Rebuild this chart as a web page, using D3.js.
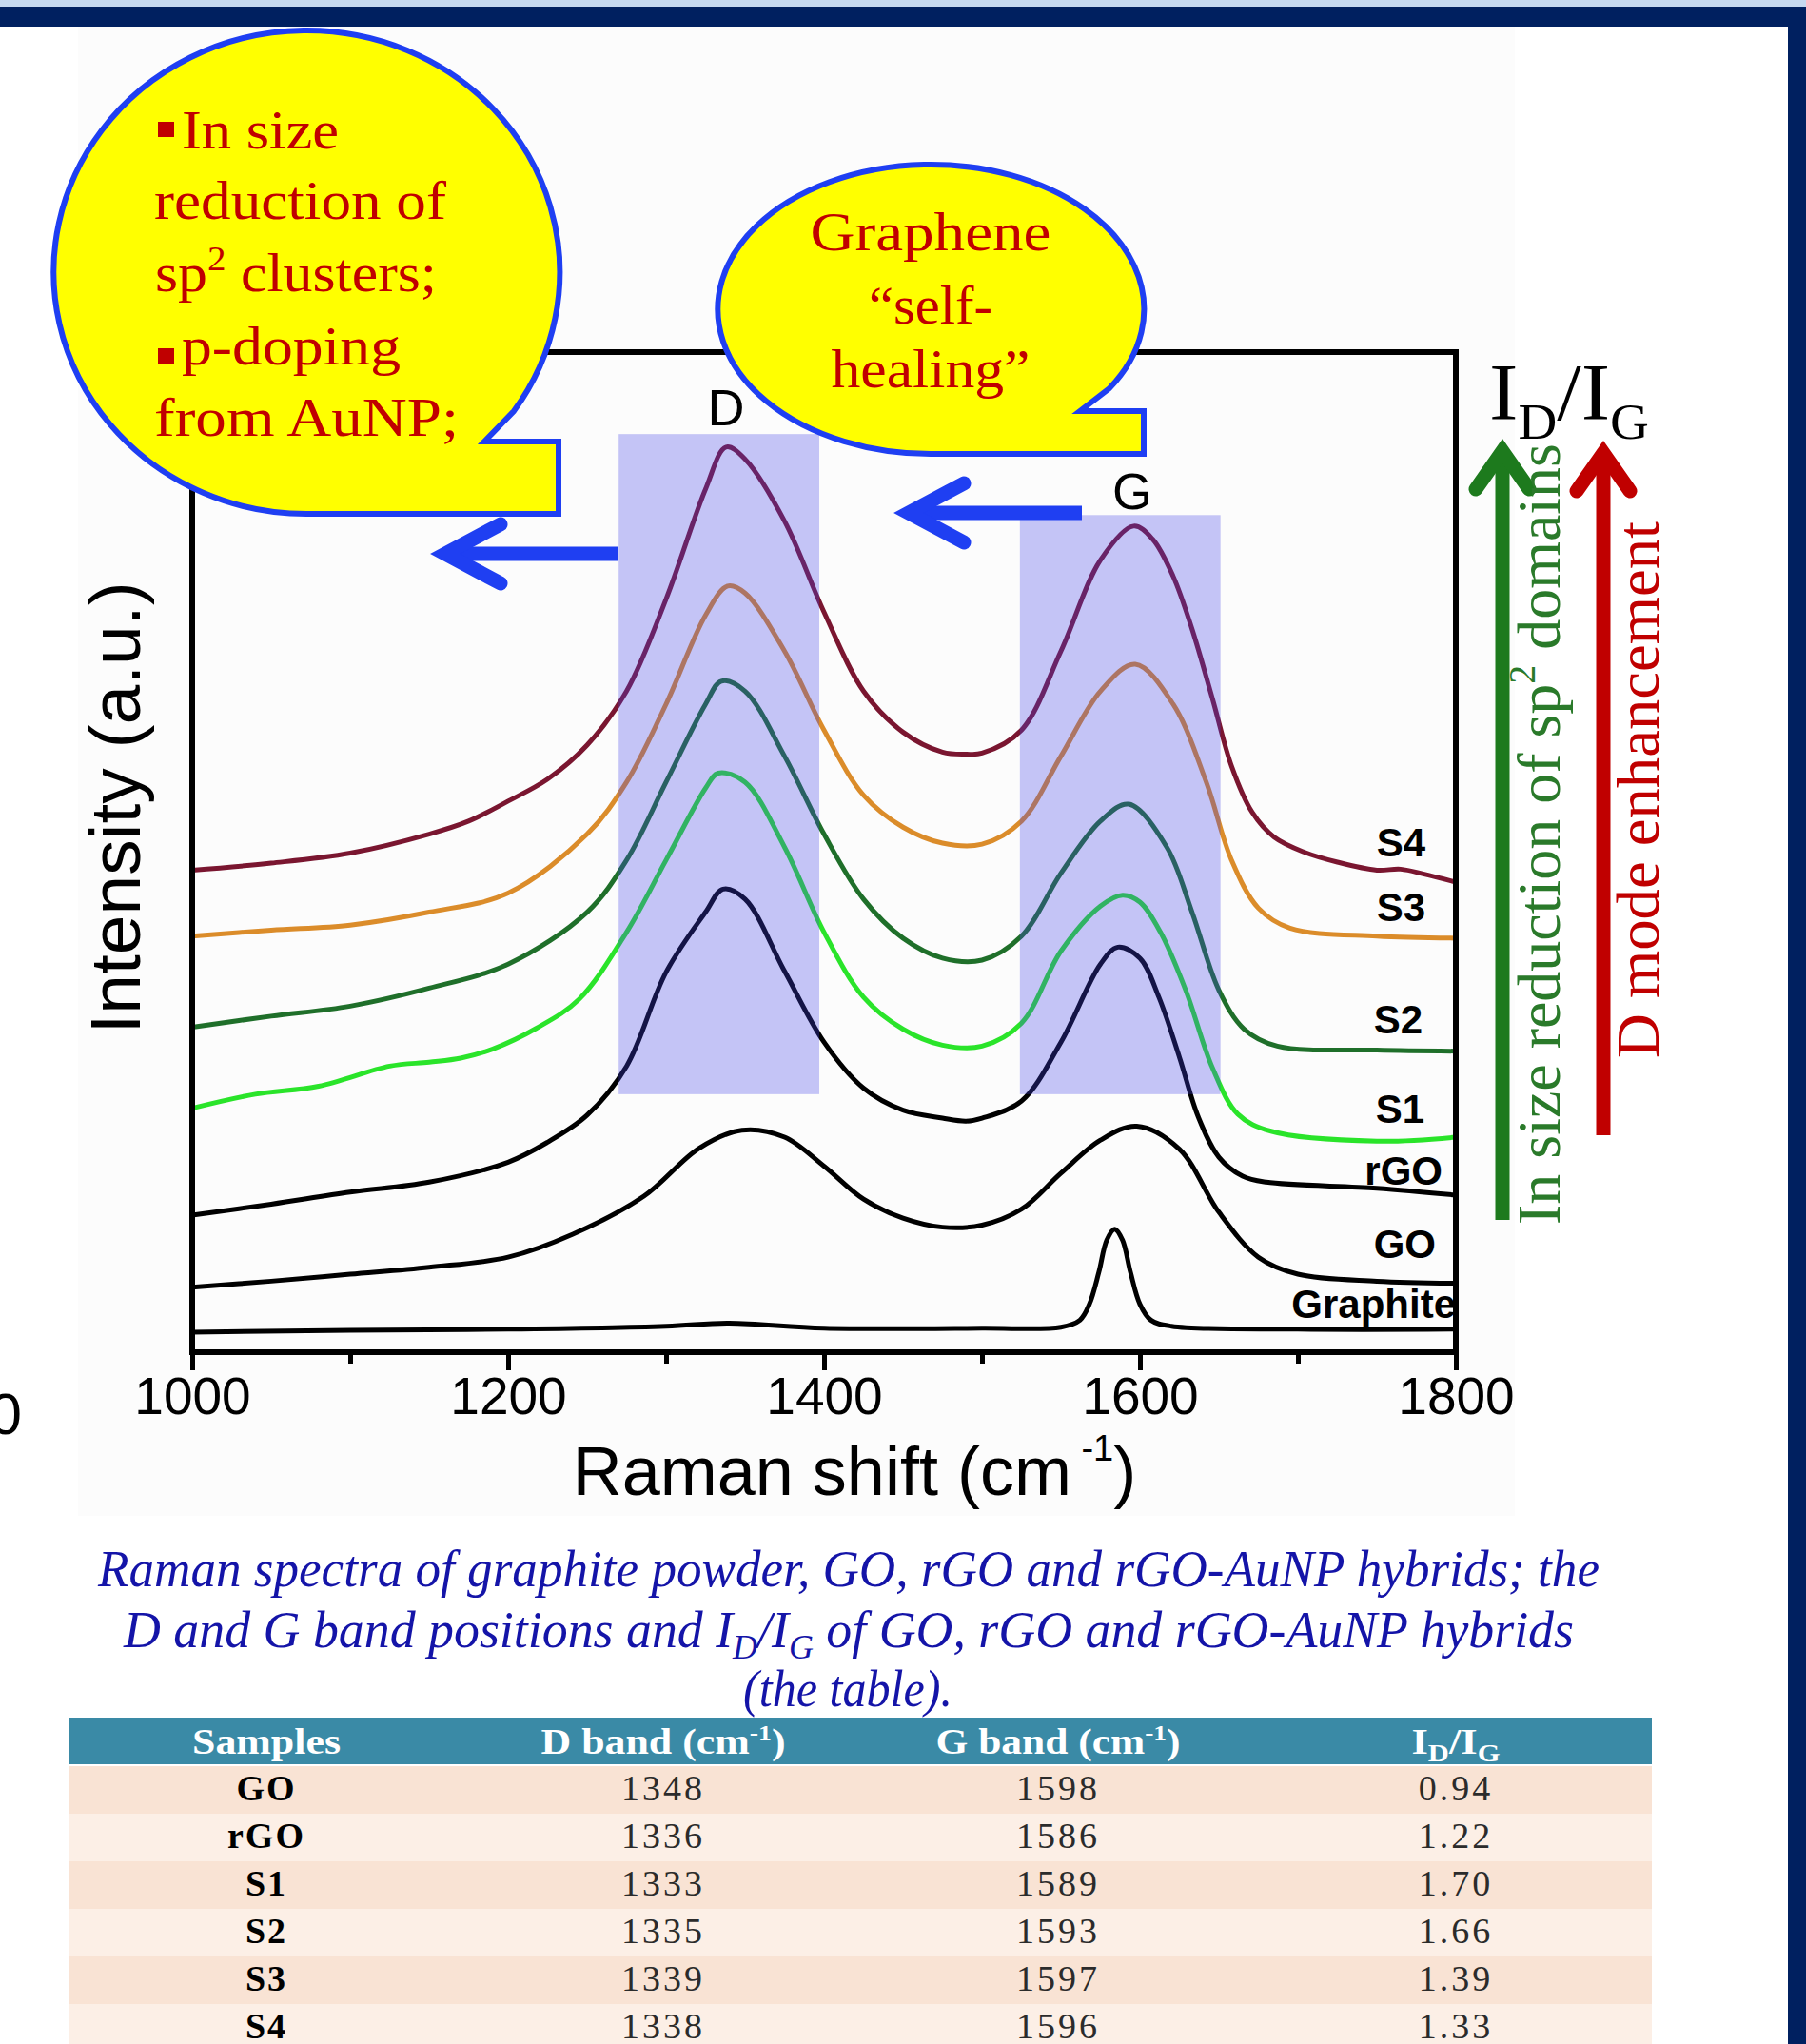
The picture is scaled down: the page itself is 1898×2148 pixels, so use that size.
<!DOCTYPE html>
<html>
<head>
<meta charset="utf-8">
<script src="https://cdn.jsdelivr.net/npm/d3@7"></script>
<style>
  body { margin: 0; background: #fff; }
  svg { display: block; }
</style>
</head>
<body>
<div id="chart"></div>
<script>
// Raman spectra (intensity in a.u., 0 = frame bottom, 100 = frame top)
const shiftMajor = [1000, 1200, 1400, 1600, 1800];
const shiftMinor = [1100, 1300, 1500, 1700];

const s4 = [[1000,48.2],[1050,48.9],[1100,49.9],[1150,51.8],[1175,53.1],[1200,55.1],[1225,57.3],[1250,60.7],[1275,66.1],[1300,75.3],[1325,86.3],[1338,90.5],[1350,89.3],[1375,83.1],[1400,74.0],[1425,66.1],[1450,62.0],[1475,60.0],[1490,59.8],[1500,59.9],[1525,62.2],[1550,70.1],[1575,79.2],[1596,82.6],[1608,81.3],[1621,77.6],[1633,72.3],[1646,65.3],[1658,58.6],[1671,54.0],[1685,51.5],[1704,50.0],[1725,49.0],[1750,48.2],[1765,48.3],[1780,47.8],[1800,47.0]];
const s3 = [[1000,41.6],[1050,42.2],[1100,42.7],[1150,44.0],[1200,45.9],[1250,51.8],[1275,57.0],[1300,64.8],[1325,73.7],[1339,76.6],[1350,75.9],[1375,70.1],[1400,62.2],[1425,55.7],[1450,52.5],[1475,50.9],[1500,50.8],[1525,53.1],[1550,59.6],[1575,66.1],[1597,68.8],[1621,64.8],[1642,57.0],[1658,49.2],[1675,44.4],[1695,42.4],[1750,41.6],[1800,41.4]];
const s2 = [[1000,32.5],[1050,33.6],[1100,34.6],[1150,36.4],[1200,38.8],[1250,44.0],[1275,49.2],[1300,57.0],[1325,64.8],[1335,67.1],[1350,66.1],[1375,59.6],[1400,51.8],[1425,45.3],[1450,41.4],[1475,39.4],[1500,39.2],[1525,41.6],[1550,47.9],[1575,53.1],[1593,54.8],[1617,50.5],[1633,44.0],[1650,36.2],[1666,32.3],[1687,30.6],[1750,30.2],[1800,30.1]];
const s1 = [[1000,24.4],[1040,25.8],[1080,26.6],[1125,28.6],[1150,29.0],[1170,29.4],[1190,30.3],[1218,32.4],[1245,35.3],[1275,42.0],[1300,49.2],[1325,56.4],[1333,57.9],[1350,57.0],[1375,50.5],[1400,42.0],[1425,35.5],[1450,32.3],[1475,30.7],[1500,30.6],[1525,32.9],[1550,40.1],[1575,44.6],[1589,45.7],[1600,45.0],[1613,42.0],[1629,36.2],[1646,28.4],[1662,23.8],[1683,22.1],[1750,21.1],[1800,21.5]];
const rgo = [[1000,13.7],[1050,14.8],[1100,16.0],[1150,17.0],[1200,19.0],[1225,21.0],[1250,23.7],[1275,28.6],[1300,38.0],[1325,44.0],[1336,46.3],[1350,45.3],[1375,38.1],[1400,31.0],[1425,26.4],[1450,24.2],[1475,23.4],[1490,23.1],[1500,23.4],[1525,25.1],[1550,31.0],[1575,38.8],[1586,40.5],[1600,39.4],[1612,35.5],[1625,29.5],[1637,23.5],[1650,19.5],[1665,17.6],[1680,17.0],[1750,16.4],[1800,15.7]];
const go = [[1000,6.5],[1050,7.1],[1100,7.8],[1150,8.5],[1200,9.5],[1241,11.8],[1286,15.6],[1321,20.4],[1348,22.2],[1375,21.5],[1400,18.6],[1425,15.3],[1450,13.4],[1475,12.5],[1500,12.7],[1525,14.3],[1550,17.9],[1575,21.2],[1598,22.6],[1625,20.3],[1650,14.0],[1675,9.5],[1700,7.8],[1750,7.1],[1800,6.9]];
const graphite = [[1000,2.0],[1100,2.2],[1200,2.3],[1300,2.6],[1340,2.9],[1400,2.4],[1500,2.4],[1550,2.5],[1562,3.2],[1568,4.8],[1574,8.0],[1579,11.2],[1584,12.3],[1589,11.2],[1594,8.0],[1600,4.8],[1607,3.2],[1620,2.6],[1700,2.3],[1800,2.3]];

const seriesNames = ['Graphite', 'GO', 'rGO', 'S1', 'S2', 'S3', 'S4'];
const seriesData = [graphite, go, rgo, s1, s2, s3, s4];

// table
const samples = ['GO', 'rGO', 'S1', 'S2', 'S3', 'S4'];
const dBand = ['1348', '1336', '1333', '1335', '1339', '1338'];
const gBand = ['1598', '1586', '1589', '1593', '1597', '1596'];
const ratio = ['0.94', '1.22', '1.70', '1.66', '1.39', '1.33'];

const W = 1898, H = 2148;
const sans = '"Liberation Sans", Arial, sans-serif';
const serif = '"Liberation Serif", "Times New Roman", serif';
const blue = '#1f3ff2';
const darkRed = '#c00000';

const svg = d3.select('#chart').append('svg')
  .attr('width', W)
  .attr('height', H);

// page background + slide frame
svg.append('rect').attr('width', W).attr('height', H).attr('fill', '#fff');
svg.append('rect').attr('x', 82).attr('y', 28).attr('width', 1510).attr('height', 1565).attr('fill', '#fcfcfc');
svg.append('rect').attr('width', W).attr('height', 8).attr('fill', '#c6d9f0');
svg.append('rect').attr('y', 7).attr('width', W).attr('height', 21).attr('fill', '#002060');
svg.append('rect').attr('x', 1879).attr('y', 7).attr('width', 19).attr('height', H).attr('fill', '#002060');

// scales
const x = d3.scaleLinear().domain([1000, 1800]).range([202, 1530]);
const y = d3.scaleLinear().domain([0, 100]).range([1421, 370]);

const colors = {
  Graphite: '#000', GO: '#000', rGO: '#000',
  S1: '#2ae42a', S2: '#1f6f2a', S3: '#db8c2a', S4: '#7a1630'
};

const line = d3.line()
  .x(d => x(d[0]))
  .y(d => y(d[1]))
  .curve(d3.curveCatmullRom.alpha(0.5));

svg.append('g')
  .selectAll('path')
  .data(seriesData)
  .join('path')
  .attr('d', line)
  .attr('fill', 'none')
  .attr('stroke', (d, i) => colors[seriesNames[i]])
  .attr('stroke-width', 5)
  .attr('stroke-linejoin', 'round');

// D and G band shading (translucent, over the curves)
const bands = [
  { x0: 1270, x1: 1397, top: 91.8 },
  { x0: 1524, x1: 1651, top: 83.7 }
];
svg.append('g')
  .selectAll('rect')
  .data(bands)
  .join('rect')
  .attr('x', d => x(d.x0))
  .attr('width', d => x(d.x1) - x(d.x0))
  .attr('y', d => y(d.top))
  .attr('height', d => y(25.8) - y(d.top))
  .attr('fill', '#4242e9')
  .attr('opacity', 0.3);

// frame
svg.append('rect')
  .attr('x', 202).attr('y', 370)
  .attr('width', 1328).attr('height', 1051)
  .attr('fill', 'none')
  .attr('stroke', '#000')
  .attr('stroke-width', 6);

// bottom axis ticks
const majorAxis = d3.axisBottom(x)
  .tickValues(shiftMajor)
  .tickSize(19)
  .tickPadding(7)
  .tickFormat(d3.format('d'));
const minorAxis = d3.axisBottom(x)
  .tickValues(shiftMinor)
  .tickSize(12)
  .tickFormat('');

const gMajor = svg.append('g').attr('transform', 'translate(0,1421)').call(majorAxis);
const gMinor = svg.append('g').attr('transform', 'translate(0,1421)').call(minorAxis);
[gMajor, gMinor].forEach(g => {
  g.select('.domain').remove();
  g.selectAll('.tick line').attr('stroke', '#000').attr('stroke-width', 5);
});
gMajor.selectAll('.tick text')
  .attr('font-family', sans)
  .attr('font-size', 55)
  .attr('fill', '#000');

// cut-off label from the neighbouring panel
svg.append('text')
  .attr('x', 23).attr('y', 1507)
  .attr('text-anchor', 'end')
  .attr('font-family', sans).attr('font-size', 62)
  .text('0');

// axis titles
const xt = svg.append('text')
  .attr('x', 898).attr('y', 1571)
  .attr('text-anchor', 'middle')
  .attr('font-family', sans).attr('font-size', 72);
xt.append('tspan').text('Raman shift (cm');
xt.append('tspan').attr('font-size', 38).attr('dy', -36).text(' -1');
xt.append('tspan').attr('dy', 36).text(')');

svg.append('text')
  .attr('transform', 'translate(147,849) rotate(-90)')
  .attr('text-anchor', 'middle')
  .attr('font-family', sans).attr('font-size', 75)
  .text('Intensity (a.u.)');

// band letters
svg.append('text').attr('x', 763).attr('y', 447).attr('text-anchor', 'middle')
  .attr('font-family', sans).attr('font-size', 54).text('D');
svg.append('text').attr('x', 1190).attr('y', 535).attr('text-anchor', 'middle')
  .attr('font-family', sans).attr('font-size', 54).text('G');

// curve labels
const curveLabels = [
  { name: 'S4', x: 1498, y: 900 },
  { name: 'S3', x: 1498, y: 968 },
  { name: 'S2', x: 1495, y: 1086 },
  { name: 'S1', x: 1497, y: 1180 },
  { name: 'rGO', x: 1516, y: 1245 },
  { name: 'GO', x: 1509, y: 1322 },
  { name: 'Graphite', x: 1530, y: 1385 }
];
svg.append('g')
  .selectAll('text')
  .data(curveLabels)
  .join('text')
  .attr('x', d => d.x)
  .attr('y', d => d.y)
  .attr('text-anchor', 'end')
  .attr('font-family', sans)
  .attr('font-weight', 'bold')
  .attr('font-size', 42)
  .text(d => d.name);

// blue shift arrows
function leftArrow(tipX, tipY, endX) {
  const g = svg.append('g')
    .attr('stroke', blue).attr('stroke-width', 15)
    .attr('fill', 'none').attr('stroke-linecap', 'round');
  g.append('line').attr('x1', endX).attr('x2', tipX + 4).attr('y1', tipY).attr('y2', tipY)
    .attr('stroke-linecap', 'butt');
  g.append('path')
    .attr('d', `M${tipX + 58},${tipY - 31} L${tipX},${tipY} L${tipX + 58},${tipY + 31}`)
    .attr('stroke-linejoin', 'miter');
}
leftArrow(468, 582, 650);
leftArrow(955, 539, 1137);

// speech bubbles
function bubble(d) {
  svg.append('path')
    .attr('d', d)
    .attr('fill', '#ffff00')
    .attr('stroke', blue)
    .attr('stroke-width', 6)
    .attr('stroke-linejoin', 'miter');
}
bubble('M540,432 A266,254 0 1 0 322,540 L587,540 L587,464 L509,464 Z');
bubble('M1166,408 A224,152 0 1 0 978,477 L1202,477 L1202,432 L1135,432 Z');

function serifText(xp, yp, size, color, anchor, len) {
  const t = svg.append('text')
    .attr('x', xp).attr('y', yp)
    .attr('font-family', serif).attr('font-size', size)
    .attr('fill', color).attr('text-anchor', anchor);
  if (len) t.attr('textLength', len).attr('lengthAdjust', 'spacingAndGlyphs');
  return t;
}

// bubble 1 text
svg.append('rect').attr('x', 166).attr('y', 128).attr('width', 17).attr('height', 16).attr('fill', darkRed);
svg.append('rect').attr('x', 166).attr('y', 366).attr('width', 17).attr('height', 16).attr('fill', darkRed);
serifText(191, 156, 57, darkRed, 'start', 165).text('In size');
serifText(162, 230, 57, darkRed, 'start', 307).text('reduction of');
const sp = serifText(163, 306, 57, darkRed, 'start', 296);
sp.append('tspan').text('sp');
sp.append('tspan').attr('font-size', 36).attr('dy', -22).text('2');
sp.append('tspan').attr('dy', 22).text(' clusters;');
serifText(191, 383, 57, darkRed, 'start', 230).text('p-doping');
serifText(162, 458, 57, darkRed, 'start', 320).text('from AuNP;');

// bubble 2 text
serifText(978, 263, 57, darkRed, 'middle', 253).text('Graphene');
serifText(978, 340, 57, darkRed, 'middle', 130).text('\u201Cself-');
serifText(978, 407, 57, darkRed, 'middle', 209).text('healing\u201D');

// ID/IG title
const idig = serifText(1565, 441, 84, '#000', 'start', 168);
idig.append('tspan').text('I');
idig.append('tspan').attr('font-size', 52).attr('dy', 20).text('D');
idig.append('tspan').attr('dy', -20).text('/I');
idig.append('tspan').attr('font-size', 52).attr('dy', 20).text('G');

// vertical arrows
function upArrow(cx, tipY, bottomY, color) {
  const g = svg.append('g')
    .attr('stroke', color).attr('stroke-width', 15)
    .attr('fill', 'none').attr('stroke-linecap', 'round');
  g.append('line').attr('x1', cx).attr('x2', cx).attr('y1', bottomY).attr('y2', tipY + 4)
    .attr('stroke-linecap', 'butt');
  g.append('path')
    .attr('d', `M${cx - 28},${tipY + 40} L${cx},${tipY} L${cx + 28},${tipY + 40}`)
    .attr('stroke-linejoin', 'miter');
}
upArrow(1579, 474, 1282, '#1d7a1d');
upArrow(1685, 476, 1193, darkRed);

const gt = svg.append('text')
  .attr('transform', 'translate(1639,1287) rotate(-90)')
  .attr('font-family', serif).attr('font-size', 64)
  .attr('fill', '#2a7a2a')
  .attr('textLength', 821).attr('lengthAdjust', 'spacingAndGlyphs');
gt.append('tspan').text('In size reduction of sp');
gt.append('tspan').attr('font-size', 40).attr('dy', -26).text('2');
gt.append('tspan').attr('dy', 26).text(' domains');

svg.append('text')
  .attr('transform', 'translate(1743,1112) rotate(-90)')
  .attr('font-family', serif).attr('font-size', 64)
  .attr('fill', darkRed)
  .attr('textLength', 564).attr('lengthAdjust', 'spacingAndGlyphs')
  .text('D mode enhancement');

// caption
const capColor = '#1414a8';
serifText(892, 1667, 54, capColor, 'middle', 1578)
  .attr('font-style', 'italic')
  .text('Raman spectra of graphite powder, GO, rGO and rGO-AuNP hybrids; the');
const cap2 = serifText(892, 1731, 54, capColor, 'middle', 1524).attr('font-style', 'italic');
cap2.append('tspan').text('D and G band positions and I');
cap2.append('tspan').attr('font-size', 36).attr('dy', 12).text('D');
cap2.append('tspan').attr('dy', -12).text('/I');
cap2.append('tspan').attr('font-size', 36).attr('dy', 12).text('G');
cap2.append('tspan').attr('dy', -12).text(' of GO, rGO and rGO-AuNP hybrids');
serifText(891, 1793, 54, capColor, 'middle', 220).attr('font-style', 'italic').text('(the table).');

// table
const colX = [280, 697, 1112, 1530];
svg.append('rect').attr('x', 72).attr('y', 1805).attr('width', 1664).attr('height', 49).attr('fill', '#3a8aa6');

const hdr = (i, len) => serifText(colX[i], 1843, 38, '#fff', 'middle', len).attr('font-weight', 'bold');
hdr(0, 156).text('Samples');
[1, 2].forEach(i => {
  const t = hdr(i, 257);
  t.append('tspan').text(i === 1 ? 'D band (cm' : 'G band (cm');
  t.append('tspan').attr('font-size', 24).attr('dy', -14).text('-1');
  t.append('tspan').attr('dy', 14).text(')');
});
const hr = hdr(3, 93);
hr.append('tspan').text('I');
hr.append('tspan').attr('font-size', 26).attr('dy', 8).text('D');
hr.append('tspan').attr('dy', -8).text('/I');
hr.append('tspan').attr('font-size', 26).attr('dy', 8).text('G');

const rows = svg.append('g')
  .selectAll('g')
  .data(samples)
  .join('g')
  .attr('transform', (d, i) => `translate(0,${1856 + i * 50})`);
rows.append('rect')
  .attr('x', 72).attr('width', 1664).attr('height', 50)
  .attr('fill', (d, i) => i % 2 === 0 ? '#f9e3d4' : '#fcefe6');
rows.append('text')
  .attr('x', colX[0]).attr('y', 36)
  .attr('text-anchor', 'middle')
  .attr('font-family', serif).attr('font-weight', 'bold').attr('font-size', 38)
  .attr('letter-spacing', 2)
  .text(d => d);
[dBand, gBand, ratio].forEach((col, c) => {
  rows.append('text')
    .attr('x', colX[c + 1]).attr('y', 36)
    .attr('text-anchor', 'middle')
    .attr('font-family', serif).attr('font-size', 38)
    .attr('letter-spacing', 3)
    .attr('fill', '#2b2b2b')
    .text((d, i) => col[i]);
});
</script>
</body>
</html>
